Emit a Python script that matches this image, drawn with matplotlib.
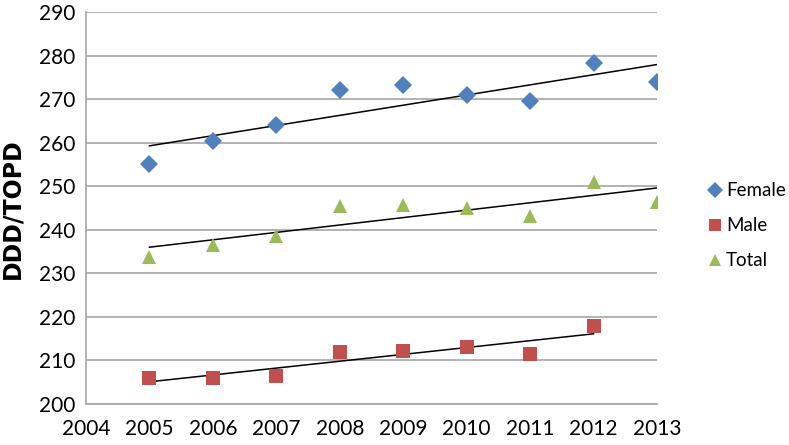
import numpy as np
import matplotlib
matplotlib.use("Agg")
import matplotlib.pyplot as plt

# Data
years_female = [2005, 2006, 2007, 2008, 2009, 2010, 2011, 2012, 2013]
female = [255.1, 260.4, 264.0, 272.1, 273.2, 271.0, 269.6, 278.4, 274.1]

years_male = [2005, 2006, 2007, 2008, 2009, 2010, 2011, 2012]
male = [205.9, 205.9, 206.5, 211.9, 212.2, 213.1, 211.4, 218.0]

years_total = [2005, 2006, 2007, 2008, 2009, 2010, 2011, 2012, 2013]
total = [233.7, 236.6, 238.6, 245.4, 245.8, 245.0, 243.2, 250.9, 246.3]

x_ticks = list(range(2004, 2014))
y_ticks = list(range(200, 300, 10))

plt.rcParams['font.family'] = ['Lato', 'DejaVu Sans']

fig = plt.figure(figsize=(7.89, 4.45), dpi=100)
ax = fig.add_axes([86 / 789, 1 - 404 / 445, (657 - 86) / 789, (404 - 12.3) / 445])

series = [
    ("Female", years_female, female, "#4F81BD", "D", 9),
    ("Male", years_male, male, "#C0504D", "s", 10),
    ("Total", years_total, total, "#9BBB59", "^", 10.5),
]

for name, xs, ys, color, marker, size in series:
    ax.plot(xs, ys, linestyle="none", marker=marker, markersize=size,
            color=color, markeredgewidth=0, label=name, zorder=3)
    # linear trend line over the data range
    k, b = np.polyfit(xs, ys, 1)
    xx = np.array([xs[0], xs[-1]])
    ax.plot(xx, k * xx + b, color="black", linewidth=1.1, zorder=2)

ax.set_xlim(2004, 2013)
ax.set_ylim(200, 290)
ax.set_xticks(x_ticks)
ax.set_yticks(y_ticks)
ax.tick_params(axis="both", length=0, labelsize=15)
ax.tick_params(axis="x", pad=11)
ax.tick_params(axis="y", pad=8)
ax.grid(axis="y", color="#A6A6A6", linewidth=1.2)
ax.set_axisbelow(True)
for side in ["top", "right"]:
    ax.spines[side].set_visible(False)
for side in ["left", "bottom"]:
    ax.spines[side].set_color("#A6A6A6")
    ax.spines[side].set_linewidth(1.2)

ax.set_ylabel("DDD/TOPD", fontsize=17, fontweight="bold", labelpad=10,
              family="DejaVu Sans")

ax.legend(loc="center left", bbox_to_anchor=(1.055, 0.455), frameon=False,
          fontsize=13.5, handletextpad=0.1, labelspacing=0.95, handlelength=1.0,
          markerscale=0.85)

fig.savefig("out.png", dpi=100)
